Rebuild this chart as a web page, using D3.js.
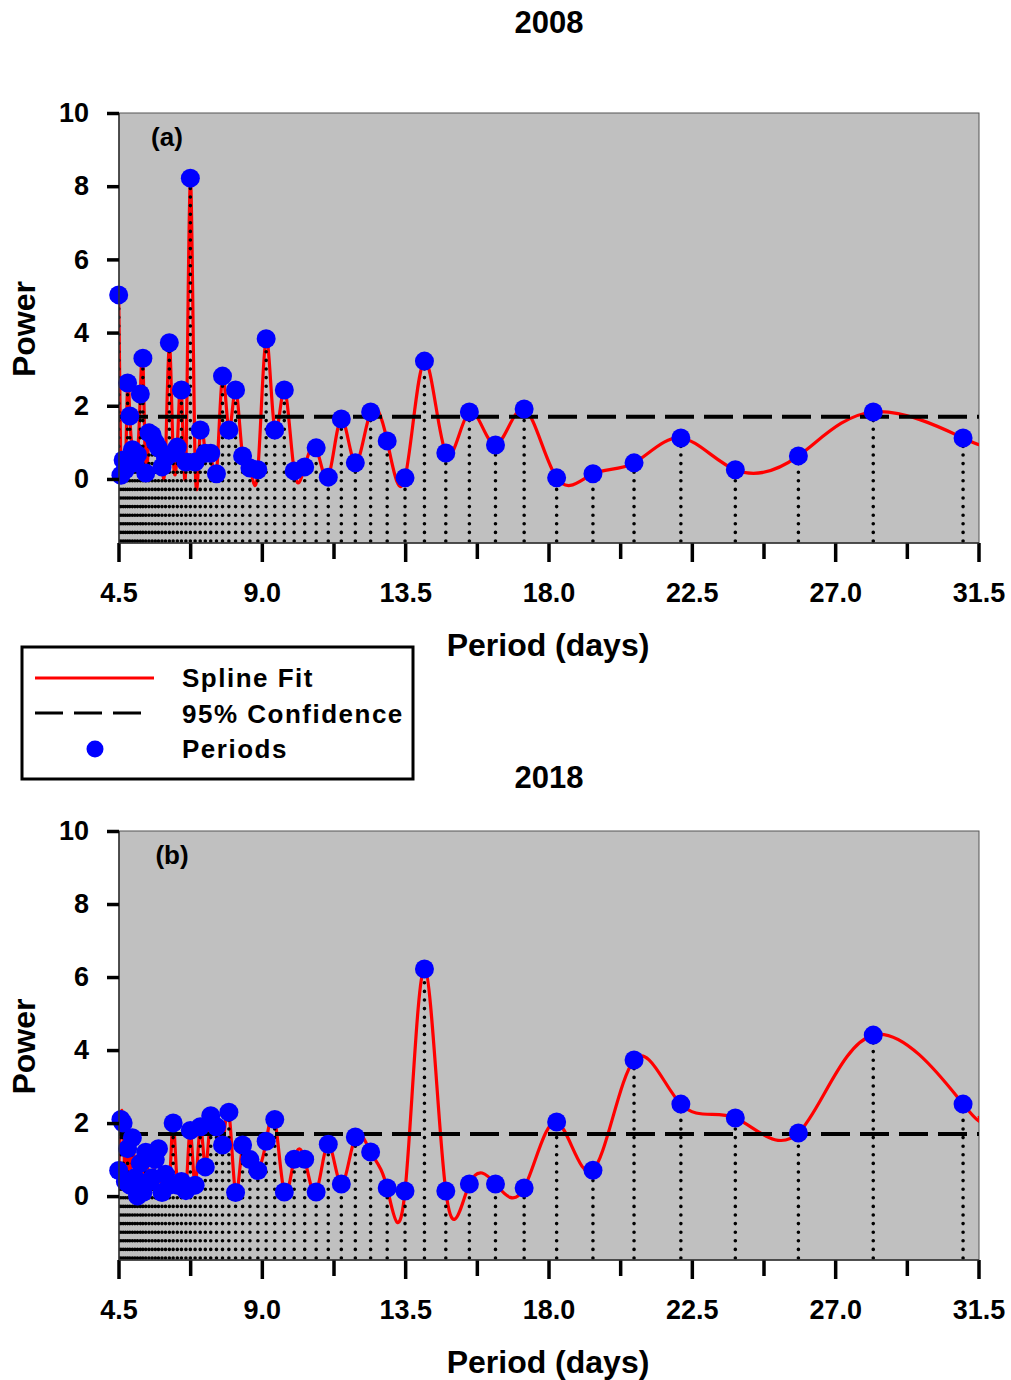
<!DOCTYPE html>
<html><head><meta charset="utf-8">
<script src="https://cdn.jsdelivr.net/npm/d3@7"></script>
<style>
body{margin:0;background:#fff;}
text{font-family:"Liberation Sans",Arial,sans-serif;font-weight:bold;fill:#000;}
</style></head>
<body><svg id="c" width="1011" height="1380"></svg>
<script>
// Periods (days), ascending
const periods = [4.49,4.56,4.63,4.70,4.77,4.84,4.92,5.00,5.08,5.17,
  5.25,5.34,5.44,5.54,5.64,5.74,5.85,5.96,6.08,6.20,
  6.33,6.46,6.60,6.74,6.89,7.05,7.21,7.38,7.56,7.75,
  7.95,8.16,8.38,8.61,8.86,9.12,9.39,9.69,10.00,10.33,
  10.69,11.07,11.48,11.92,12.40,12.92,13.48,14.09,14.76,15.50,
  16.32,17.22,18.24,19.38,20.67,22.14,23.85,25.83,28.18,31.00];
// Power 2008
const power2008 = [5.03,0.10,0.52,0.25,2.62,1.72,0.80,0.44,0.66,2.32,
  3.30,0.16,1.26,1.20,1.00,0.85,0.33,0.57,3.72,0.70,
  0.87,2.43,0.46,8.22,0.46,1.34,0.70,0.70,0.14,2.81,
  1.34,2.43,0.63,0.30,0.25,3.83,1.34,2.43,0.22,0.33,
  0.85,0.05,1.64,0.44,1.83,1.04,0.03,3.22,0.71,1.83,
  0.93,1.91,0.03,0.14,0.44,1.12,0.25,0.63,1.83,1.12];
// Power 2018
const power2018 = [0.70,2.10,2.00,0.40,1.30,0.30,1.60,0.50,0.00,0.90,
  0.10,1.20,0.40,0.50,1.00,1.30,0.10,0.60,0.30,2.00,
  0.30,0.40,0.15,1.80,0.30,1.90,0.80,2.20,1.90,1.40,
  2.30,0.10,1.40,1.00,0.70,1.50,2.10,0.11,1.01,1.01,
  0.11,1.42,0.33,1.62,1.21,0.22,0.14,6.22,0.14,0.33,
  0.33,0.22,2.03,0.71,3.73,2.52,2.14,1.73,4.41,2.52];
// spline value at right edge of axis (31.5 days)
const splineEnd2008 = 0.98;
const splineEnd2018 = 2.20;
const confidence95 = 1.7;
const xTicks = [4.5,6.75,9.0,11.25,13.5,15.75,18.0,20.25,22.5,24.75,27.0,29.25,31.5];
const xTickLabels = ["4.5","","9.0","","13.5","","18.0","","22.5","","27.0","","31.5"];
const yTicks = [0,2,4,6,8,10];
const panels = [
  {title:"2008", tag:"(a)", values:power2008, end:splineEnd2008, top:113, bottom:543, titleY:22},
  {title:"2018", tag:"(b)", values:power2018, end:splineEnd2018, top:831, bottom:1260, titleY:777}
];

const svg = d3.select("#c");
const L = 119, R = 979;
const x = d3.scaleLinear().domain([4.5,31.5]).range([L,R]);

panels.forEach((p,i)=>{
  const y = d3.scaleLinear().domain([-1.75,10]).range([p.bottom,p.top]);
  const g = svg.append("g");
  g.append("text").attr("x",549).attr("y",p.titleY).attr("text-anchor","middle")
    .attr("dominant-baseline","central").attr("font-size",31).text(p.title);
  g.append("rect").attr("x",L).attr("y",p.top).attr("width",R-L).attr("height",p.bottom-p.top)
    .attr("fill","#c0c0c0").attr("stroke","#555").attr("stroke-width",1);
  const clipId = "clip"+i;
  svg.append("clipPath").attr("id",clipId).append("rect")
    .attr("x",L).attr("y",p.top).attr("width",R-L).attr("height",p.bottom-p.top);
  const pts = periods.map((d,j)=>[d,p.values[j]]);
  const splinePts = pts.concat([[31.5,p.end]]);
  const line = d3.line().x(d=>x(d[0])).y(d=>y(d[1])).curve(d3.curveNatural);
  const pg = g.append("g").attr("clip-path",`url(#${clipId})`);
  pg.append("path").attr("d",line(splinePts)).attr("fill","none")
    .attr("stroke","#ff0000").attr("stroke-width",3.2).attr("stroke-linejoin","round");
  // dotted drop lines (drawn bottom-up so dots align in rows)
  pg.selectAll("line.drop").data(pts).join("line").attr("class","drop")
    .attr("x1",d=>x(d[0])).attr("x2",d=>x(d[0]))
    .attr("y1",y(-1.75)-2).attr("y2",d=>y(d[1]))
    .attr("stroke","#000").attr("stroke-width",3.6).attr("stroke-linecap","round")
    .attr("stroke-dasharray","0 8.6");
  pg.append("line").attr("x1",L).attr("x2",R).attr("y1",y(confidence95)).attr("y2",y(confidence95))
    .attr("stroke","#000").attr("stroke-width",4).attr("stroke-dasharray","29 10");
  g.selectAll("circle.pt").data(pts).join("circle").attr("class","pt")
    .attr("cx",d=>x(d[0])).attr("cy",d=>y(d[1])).attr("r",9.5).attr("fill","#0000ff");
  // y axis
  const ya = d3.axisLeft(y).tickValues(yTicks).tickSize(12).tickPadding(18).tickFormat(d3.format("d"));
  const yg = g.append("g").attr("transform",`translate(${L},0)`).call(ya);
  yg.select(".domain").attr("stroke","#333").attr("stroke-width",1.5)
    .attr("d",`M0,${p.top}V${p.bottom}`);
  yg.selectAll(".tick line").attr("stroke","#000").attr("stroke-width",3.5);
  yg.selectAll(".tick text").attr("font-size",27).attr("font-family","Liberation Sans, Arial").attr("font-weight","bold");
  // x axis
  const xg = g.append("g");
  xg.selectAll("line").data(xTicks).join("line")
    .attr("x1",d=>x(d)).attr("x2",d=>x(d)).attr("y1",p.bottom)
    .attr("y2",(d,j)=>p.bottom + (xTickLabels[j] ? 19 : 16))
    .attr("stroke","#000").attr("stroke-width",3.5);
  xg.append("line").attr("x1",L).attr("x2",R).attr("y1",p.bottom).attr("y2",p.bottom)
    .attr("stroke","#333").attr("stroke-width",1.5);
  xg.selectAll("text").data(xTicks).join("text")
    .attr("x",d=>x(d)).attr("y",p.bottom+50).attr("text-anchor","middle")
    .attr("dominant-baseline","central").attr("font-size",27)
    .text((d,j)=>xTickLabels[j]);
  g.append("text").attr("x",548).attr("y",p.bottom+102).attr("text-anchor","middle")
    .attr("dominant-baseline","central").attr("font-size",32).text("Period (days)");
  g.append("text").attr("transform",`translate(24,${(p.top+p.bottom)/2 + 1}) rotate(-90)`)
    .attr("text-anchor","middle").attr("dominant-baseline","central").attr("font-size",32).text("Power");
  g.append("text").attr("x",L+48+(i?5:0)).attr("y",p.top+24).attr("text-anchor","middle")
    .attr("dominant-baseline","central").attr("font-size",26).text(p.tag);
});

// legend
const lg = svg.append("g");
lg.append("rect").attr("x",22).attr("y",647).attr("width",391).attr("height",132)
  .attr("fill","#fff").attr("stroke","#000").attr("stroke-width",3);
lg.append("line").attr("x1",35).attr("x2",154).attr("y1",678).attr("y2",678)
  .attr("stroke","#ff0000").attr("stroke-width",3);
lg.append("line").attr("x1",35).attr("x2",142).attr("y1",713).attr("y2",713)
  .attr("stroke","#000").attr("stroke-width",3).attr("stroke-dasharray","28 11");
lg.append("circle").attr("cx",95).attr("cy",749).attr("r",8.5).attr("fill","#0000ff");
const legendLabels = ["Spline Fit","95% Confidence","Periods"];
lg.selectAll("text").data(legendLabels).join("text")
  .attr("x",182).attr("y",(d,j)=>678+j*35.5).attr("dominant-baseline","central")
  .attr("font-size",26).attr("letter-spacing",1.5).text(d=>d);
</script></body></html>
